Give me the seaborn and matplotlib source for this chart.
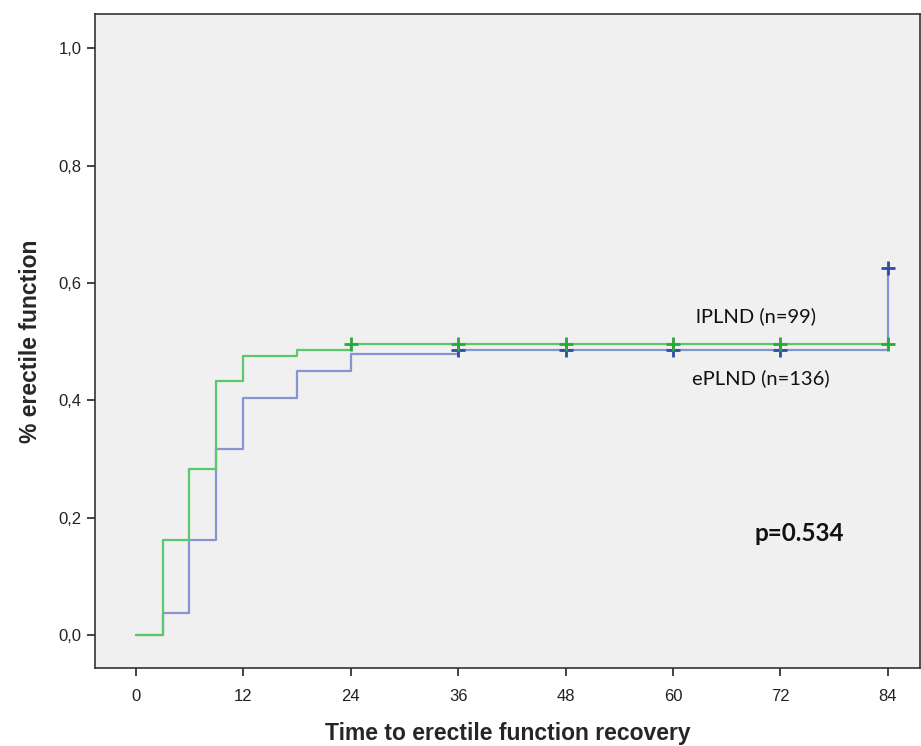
import pandas as pd
import seaborn as sns
import matplotlib.pyplot as plt
from matplotlib import font_manager

# step curves (time in months, cumulative recovery)
lplnd_time = [0, 3, 6, 9, 12, 18, 24, 84]
lplnd_val = [0.0, 0.162, 0.284, 0.434, 0.475, 0.486, 0.496, 0.496]
eplnd_time = [0, 3, 6, 9, 12, 18, 24, 36, 84, 84]
eplnd_val = [0.0, 0.037, 0.162, 0.317, 0.405, 0.450, 0.479, 0.486, 0.486, 0.625]

# censored marks
lplnd_cens_t = [24, 36, 48, 60, 72, 84]
lplnd_cens_v = [0.496] * 6
eplnd_cens_t = [36, 48, 60, 72, 84]
eplnd_cens_v = [0.486, 0.486, 0.486, 0.486, 0.625]

x_ticks = [0, 12, 24, 36, 48, 60, 72, 84]
y_ticks = [0.0, 0.2, 0.4, 0.6, 0.8, 1.0]

sns.set_style("white")
names = {f.name for f in font_manager.fontManager.ttflist}
narrow = "Liberation Sans Narrow" if "Liberation Sans Narrow" in names else "Liberation Sans"
plt.rcParams['font.family'] = [narrow, 'DejaVu Sans']

green_line = "#5cc86a"
blue_line = "#8595d2"
green_mark = "#2aa83a"
blue_mark = "#2f4aa8"

# blue first so the green curve sits on top, as in the original
curves = pd.concat([
    pd.DataFrame({"t": eplnd_time, "v": eplnd_val, "grp": "ePLND"}),
    pd.DataFrame({"t": lplnd_time, "v": lplnd_val, "grp": "lPLND"}),
])

fig = plt.figure(figsize=(9.21, 7.46), dpi=100)
ax = fig.add_axes([0.103, 0.1046, 0.896, 0.876])
ax.set_facecolor("#f0f0f0")

sns.lineplot(data=curves, x="t", y="v", hue="grp", hue_order=["ePLND", "lPLND"],
             estimator=None, sort=False,
             palette={"lPLND": green_line, "ePLND": blue_line},
             drawstyle="steps-post", linewidth=1.6, legend=False, ax=ax)

sns.scatterplot(x=eplnd_cens_t, y=eplnd_cens_v, marker="+", s=110, linewidth=2,
                color=blue_mark, ax=ax, zorder=4)
sns.scatterplot(x=lplnd_cens_t, y=lplnd_cens_v, marker="+", s=110, linewidth=2,
                color=green_mark, ax=ax, zorder=5)

ax.set_xlim(-4.57, 87.6)
ax.set_ylim(-0.056, 1.058)
ax.set_xticks(x_ticks)
ax.set_yticks(y_ticks)
ax.set_yticklabels([f"{v:.1f}".replace(".", ",") for v in y_ticks])
ax.tick_params(axis="both", direction="out", length=6, width=1.2, labelsize=12,
               colors="#222222", left=True, bottom=True)
ax.tick_params(axis="x", pad=9)
for sp in ax.spines.values():
    sp.set_color("#333333")
    sp.set_linewidth(1.2)

ax.set_xlabel("Time to erectile function recovery", fontsize=16.5, fontweight="bold",
              family=["Liberation Sans", "DejaVu Sans"], labelpad=13)
ax.set_ylabel("% erectile function", fontsize=16.5, fontweight="bold",
              family=["Liberation Sans", "DejaVu Sans"], labelpad=12)

ax.text(62.6, 0.543, "lPLND (n=99)", fontsize=14.5, family=["Lato", "DejaVu Sans"],
        ha="left", va="center", color="#111111")
ax.text(62.1, 0.438, "ePLND (n=136)", fontsize=14.5, family=["Lato", "DejaVu Sans"],
        ha="left", va="center", color="#111111")
ax.text(69.1, 0.174, "p=0.534", fontsize=17.5, fontweight="bold",
        family=["Lato", "DejaVu Sans"], ha="left", va="center", color="#111111")

fig.savefig("out.png", dpi=100, facecolor="white")
